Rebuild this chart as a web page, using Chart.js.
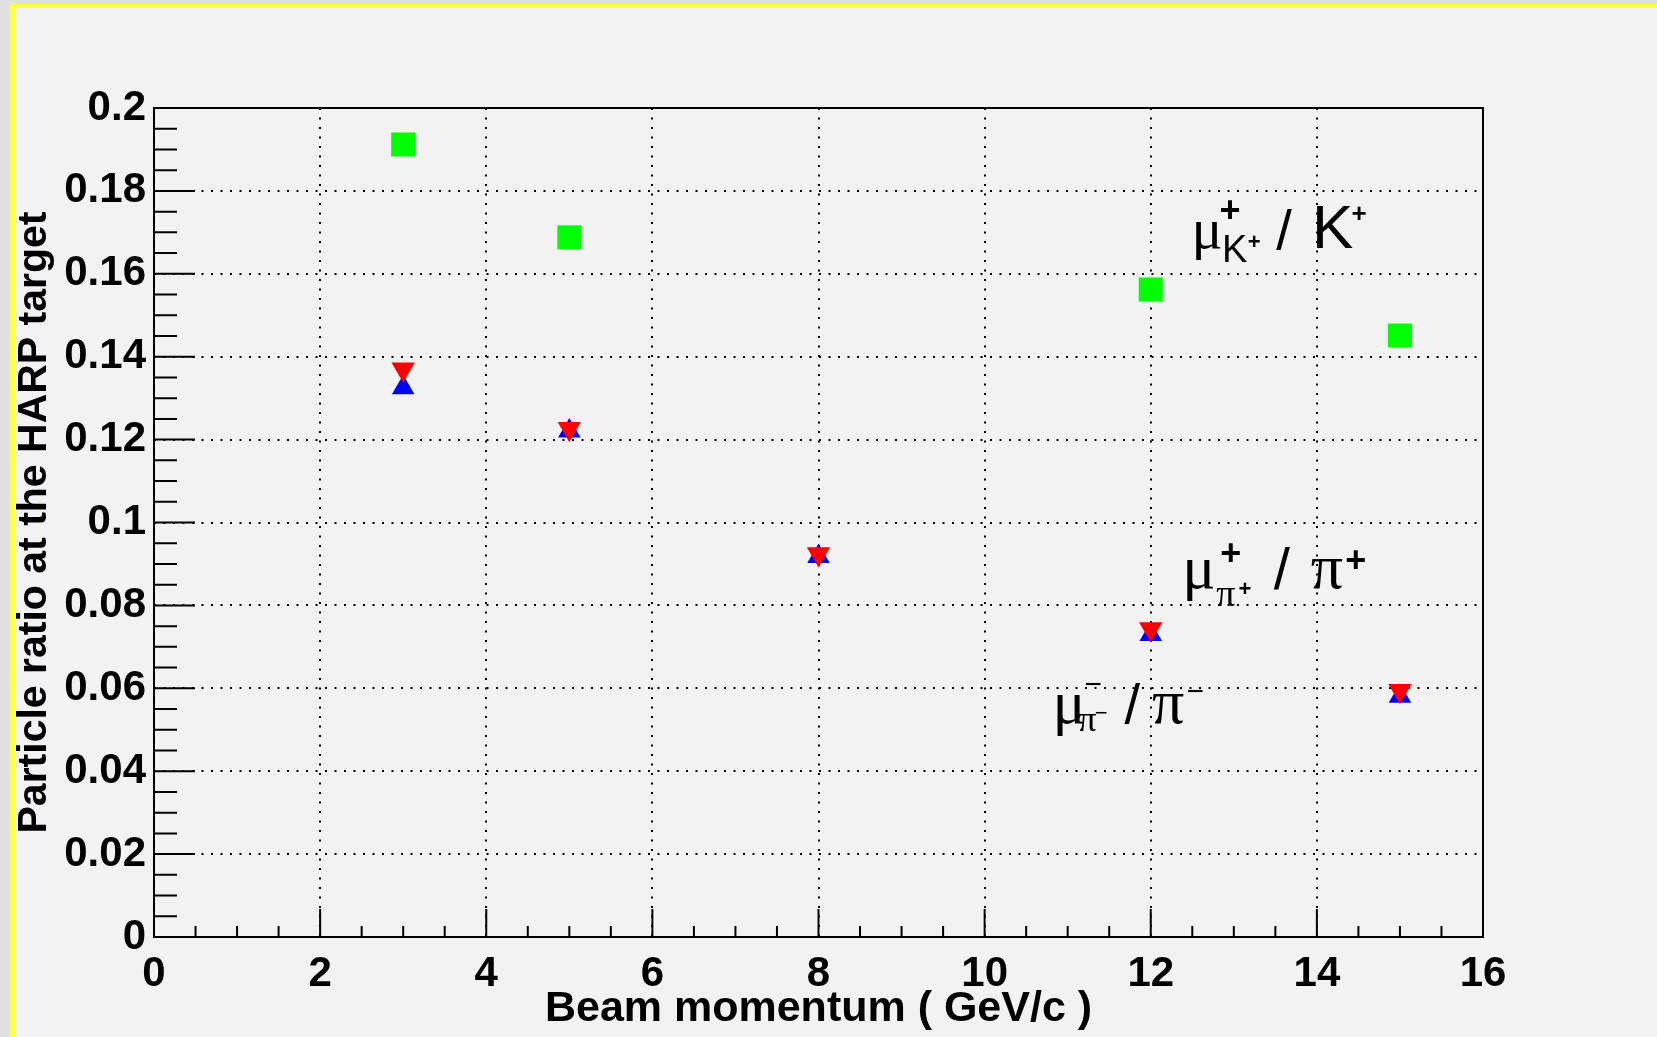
<!DOCTYPE html>
<html>
<head>
<meta charset="utf-8">
<title>Particle ratio at the HARP target</title>
<script src="https://cdn.jsdelivr.net/npm/chart.js@4.4.1/dist/chart.umd.min.js"></script>
<style>
    html, body { margin: 0; padding: 0; background: #e0e0e0; overflow: hidden; }
    #pad {
        position: absolute; left: 10px; top: 4px; width: 1700px; height: 1100px;
        background: #f2f2f2; border-left: 5px solid #ffff44; border-top: 4px solid #ffff44;
    }
    #wrap { position: absolute; left: 0; top: 0; width: 1657px; height: 1037px; }
</style>
</head>
<body>
<div id="pad"></div>
<div id="wrap"><canvas id="ratio-chart"></canvas></div>
<script>
/* -------- DATA START -------- */
const momenta = [3, 5, 8, 12, 15];              // GeV/c
const kaonRatio = [0.1912, 0.1688, null, 0.1562, 0.1451];
const piPlusRatio = [0.1325, 0.1221, 0.0918, 0.0730, 0.0581];
const piMinusRatio = [0.1370, 0.1226, 0.0924, 0.0743, 0.0594];

const xTicks = [0, 2, 4, 6, 8, 10, 12, 14, 16];
const yTicks = [0, 0.02, 0.04, 0.06, 0.08, 0.1, 0.12, 0.14, 0.16, 0.18, 0.2];

// label anchors in data coordinates (left edge of the mu, baseline)
const labelAnchors = {
    kaon: [12.51, 0.1662],
    piPlus: [12.41, 0.0842],
    piMinus: [10.85, 0.0516]
};
/* -------- DATA END -------- */

/* -------- GLOBAL VARIABLES START -------- */
const SANS = "'Liberation Sans', Arial, sans-serif";
const SERIF = "'Liberation Serif', 'Times New Roman', serif";

// pieces of each label: text, font, center x offset, baseline offset
const labelParts = {
    kaon: [
        ["\u03bc", "58px " + SERIF, 14, 0],
        ["+", "bold 36px " + SANS, 37, -26],
        ["K", "38px " + SANS, 41.5, 14],
        ["+", "bold 22px " + SANS, 61, 1],
        ["/", "56px " + SANS, 91, 1],
        ["K", "62px " + SANS, 139.5, 0],
        ["+", "bold 26px " + SANS, 166, -26]
    ],
    piPlus: [
        ["\u03bc", "62px " + SERIF, 14, 0],
        ["+", "bold 36px " + SANS, 46, -23],
        ["\u03c0", "38px " + SERIF, 41, 18],
        ["+", "bold 22px " + SANS, 60, 8],
        ["/", "58px " + SANS, 97, 1],
        ["\u03c0", "64px " + SERIF, 142, 0],
        ["+", "bold 36px " + SANS, 171, -16]
    ],
    piMinus: [
        ["\u03bc", "62px " + SERIF, 14, 0],
        ["\u2212", "30px " + SANS, 38, -29],
        ["\u03c0", "36px " + SERIF, 32, 8],
        ["\u2212", "22px " + SANS, 46, -3],
        ["/", "56px " + SANS, 77, 0],
        ["\u03c0", "64px " + SERIF, 113, 0],
        ["\u2212", "30px " + SANS, 140, -22]
    ]
};
/* -------- GLOBAL VARIABLES END -------- */

/* -------- PLUGINS START -------- */
// ROOT style frame with minor ticks on the left and bottom axes
const framePlugin = {
    id: "frame",
    afterDatasetsDraw(chart) {
        const { ctx, chartArea: a, scales: { x, y } } = chart;
        ctx.save();
        ctx.strokeStyle = "#000";
        ctx.lineWidth = 2;
        ctx.beginPath();
        for (let v = 0; v <= 16.001; v += 0.5) {
            const px = x.getPixelForValue(v);
            const len = Math.abs(v % 2) < 1e-6 ? 28 : 11;
            ctx.moveTo(px, a.bottom);
            ctx.lineTo(px, a.bottom - len);
        }
        for (let v = 0; v <= 0.2001; v += 0.005) {
            const py = y.getPixelForValue(v);
            const major = Math.abs(v / 0.02 - Math.round(v / 0.02)) < 1e-6;
            ctx.moveTo(a.left, py);
            ctx.lineTo(a.left + (major ? 41 : 23), py);
        }
        ctx.stroke();
        ctx.strokeRect(a.left, a.top, a.right - a.left, a.bottom - a.top);
        ctx.restore();
    }
};

// the mu / K and mu / pi labels
const labelPlugin = {
    id: "ratioLabels",
    afterDraw(chart) {
        const { ctx, scales: { x, y } } = chart;
        ctx.save();
        ctx.fillStyle = "#000";
        ctx.textAlign = "center";
        ctx.textBaseline = "alphabetic";
        Object.keys(labelParts).forEach(key => {
            const ax = x.getPixelForValue(labelAnchors[key][0]);
            const ay = y.getPixelForValue(labelAnchors[key][1]);
            labelParts[key].forEach(([text, font, dx, dy]) => {
                ctx.font = font;
                ctx.fillText(text, ax + dx, ay + dy);
            });
        });
        ctx.restore();
    }
};
/* -------- PLUGINS END -------- */

/* -------- FUNCTIONS START -------- */
function toPoints(values) {
    return momenta.map((m, i) => ({ x: m, y: values[i] })).filter(p => p.y !== null);
}

function buildChart() {
    const ctx = document.getElementById("ratio-chart").getContext("2d");
    return new Chart(ctx, {
        type: "scatter",
        data: {
            datasets: [
                {
                    label: "mu/K+",
                    data: toPoints(kaonRatio),
                    pointStyle: "rect",
                    pointRadius: 17,
                    backgroundColor: "#00ff00",
                    borderWidth: 0
                },
                {
                    label: "mu/pi-",
                    data: toPoints(piMinusRatio),
                    pointStyle: "triangle",
                    rotation: 180,
                    pointRadius: 13.5,
                    backgroundColor: "#ff0000",
                    borderWidth: 0
                },
                {
                    label: "mu/pi+",
                    data: toPoints(piPlusRatio),
                    pointStyle: "triangle",
                    pointRadius: 13,
                    backgroundColor: "#0000ff",
                    borderWidth: 0
                }
            ]
        },
        options: {
            responsive: true,
            maintainAspectRatio: false,
            animation: false,
            devicePixelRatio: 1,
            layout: { padding: { top: 108, right: 174, left: 0, bottom: 0 } },
            plugins: { legend: { display: false }, tooltip: { enabled: false } },
            elements: { point: { hoverRadius: 0 } },
            scales: {
                x: {
                    type: "linear",
                    min: 0,
                    max: 16,
                    afterFit: scale => { scale.height = 100; },
                    afterBuildTicks: scale => { scale.ticks = xTicks.map(v => ({ value: v })); },
                    ticks: {
                        color: "#000",
                        padding: 12,
                        maxRotation: 0,
                        font: { family: SANS, size: 42, weight: "bold" },
                        callback: v => String(v)
                    },
                    grid: { color: "#000", lineWidth: 2, drawTicks: false },
                    border: { display: false, dash: [2, 7.5] },
                    title: {
                        display: true,
                        text: "Beam momentum ( GeV/c )",
                        color: "#000",
                        font: { family: SANS, size: 43, weight: "bold", lineHeight: 1 },
                        padding: { top: 0, bottom: 6 }
                    }
                },
                y: {
                    type: "linear",
                    min: 0,
                    max: 0.2,
                    afterFit: scale => { scale.width = 154; },
                    afterBuildTicks: scale => { scale.ticks = yTicks.map(v => ({ value: v })); },
                    ticks: {
                        color: "#000",
                        padding: 8,
                        font: { family: SANS, size: 42, weight: "bold" },
                        callback: v => String(+v.toFixed(3))
                    },
                    grid: { color: "#000", lineWidth: 2, drawTicks: false },
                    border: { display: false, dash: [2, 7.5] },
                    title: {
                        display: true,
                        text: "Particle ratio at the HARP target",
                        color: "#000",
                        font: { family: SANS, size: 41, weight: "bold", lineHeight: 1 },
                        padding: { top: 14, bottom: 0 }
                    }
                }
            }
        },
        plugins: [framePlugin, labelPlugin]
    });
}
/* -------- FUNCTIONS END -------- */

/* -------- PROGRAM START -------- */
document.addEventListener("DOMContentLoaded", () => {
    const ratioChart = buildChart();
});
</script>
</body>
</html>
